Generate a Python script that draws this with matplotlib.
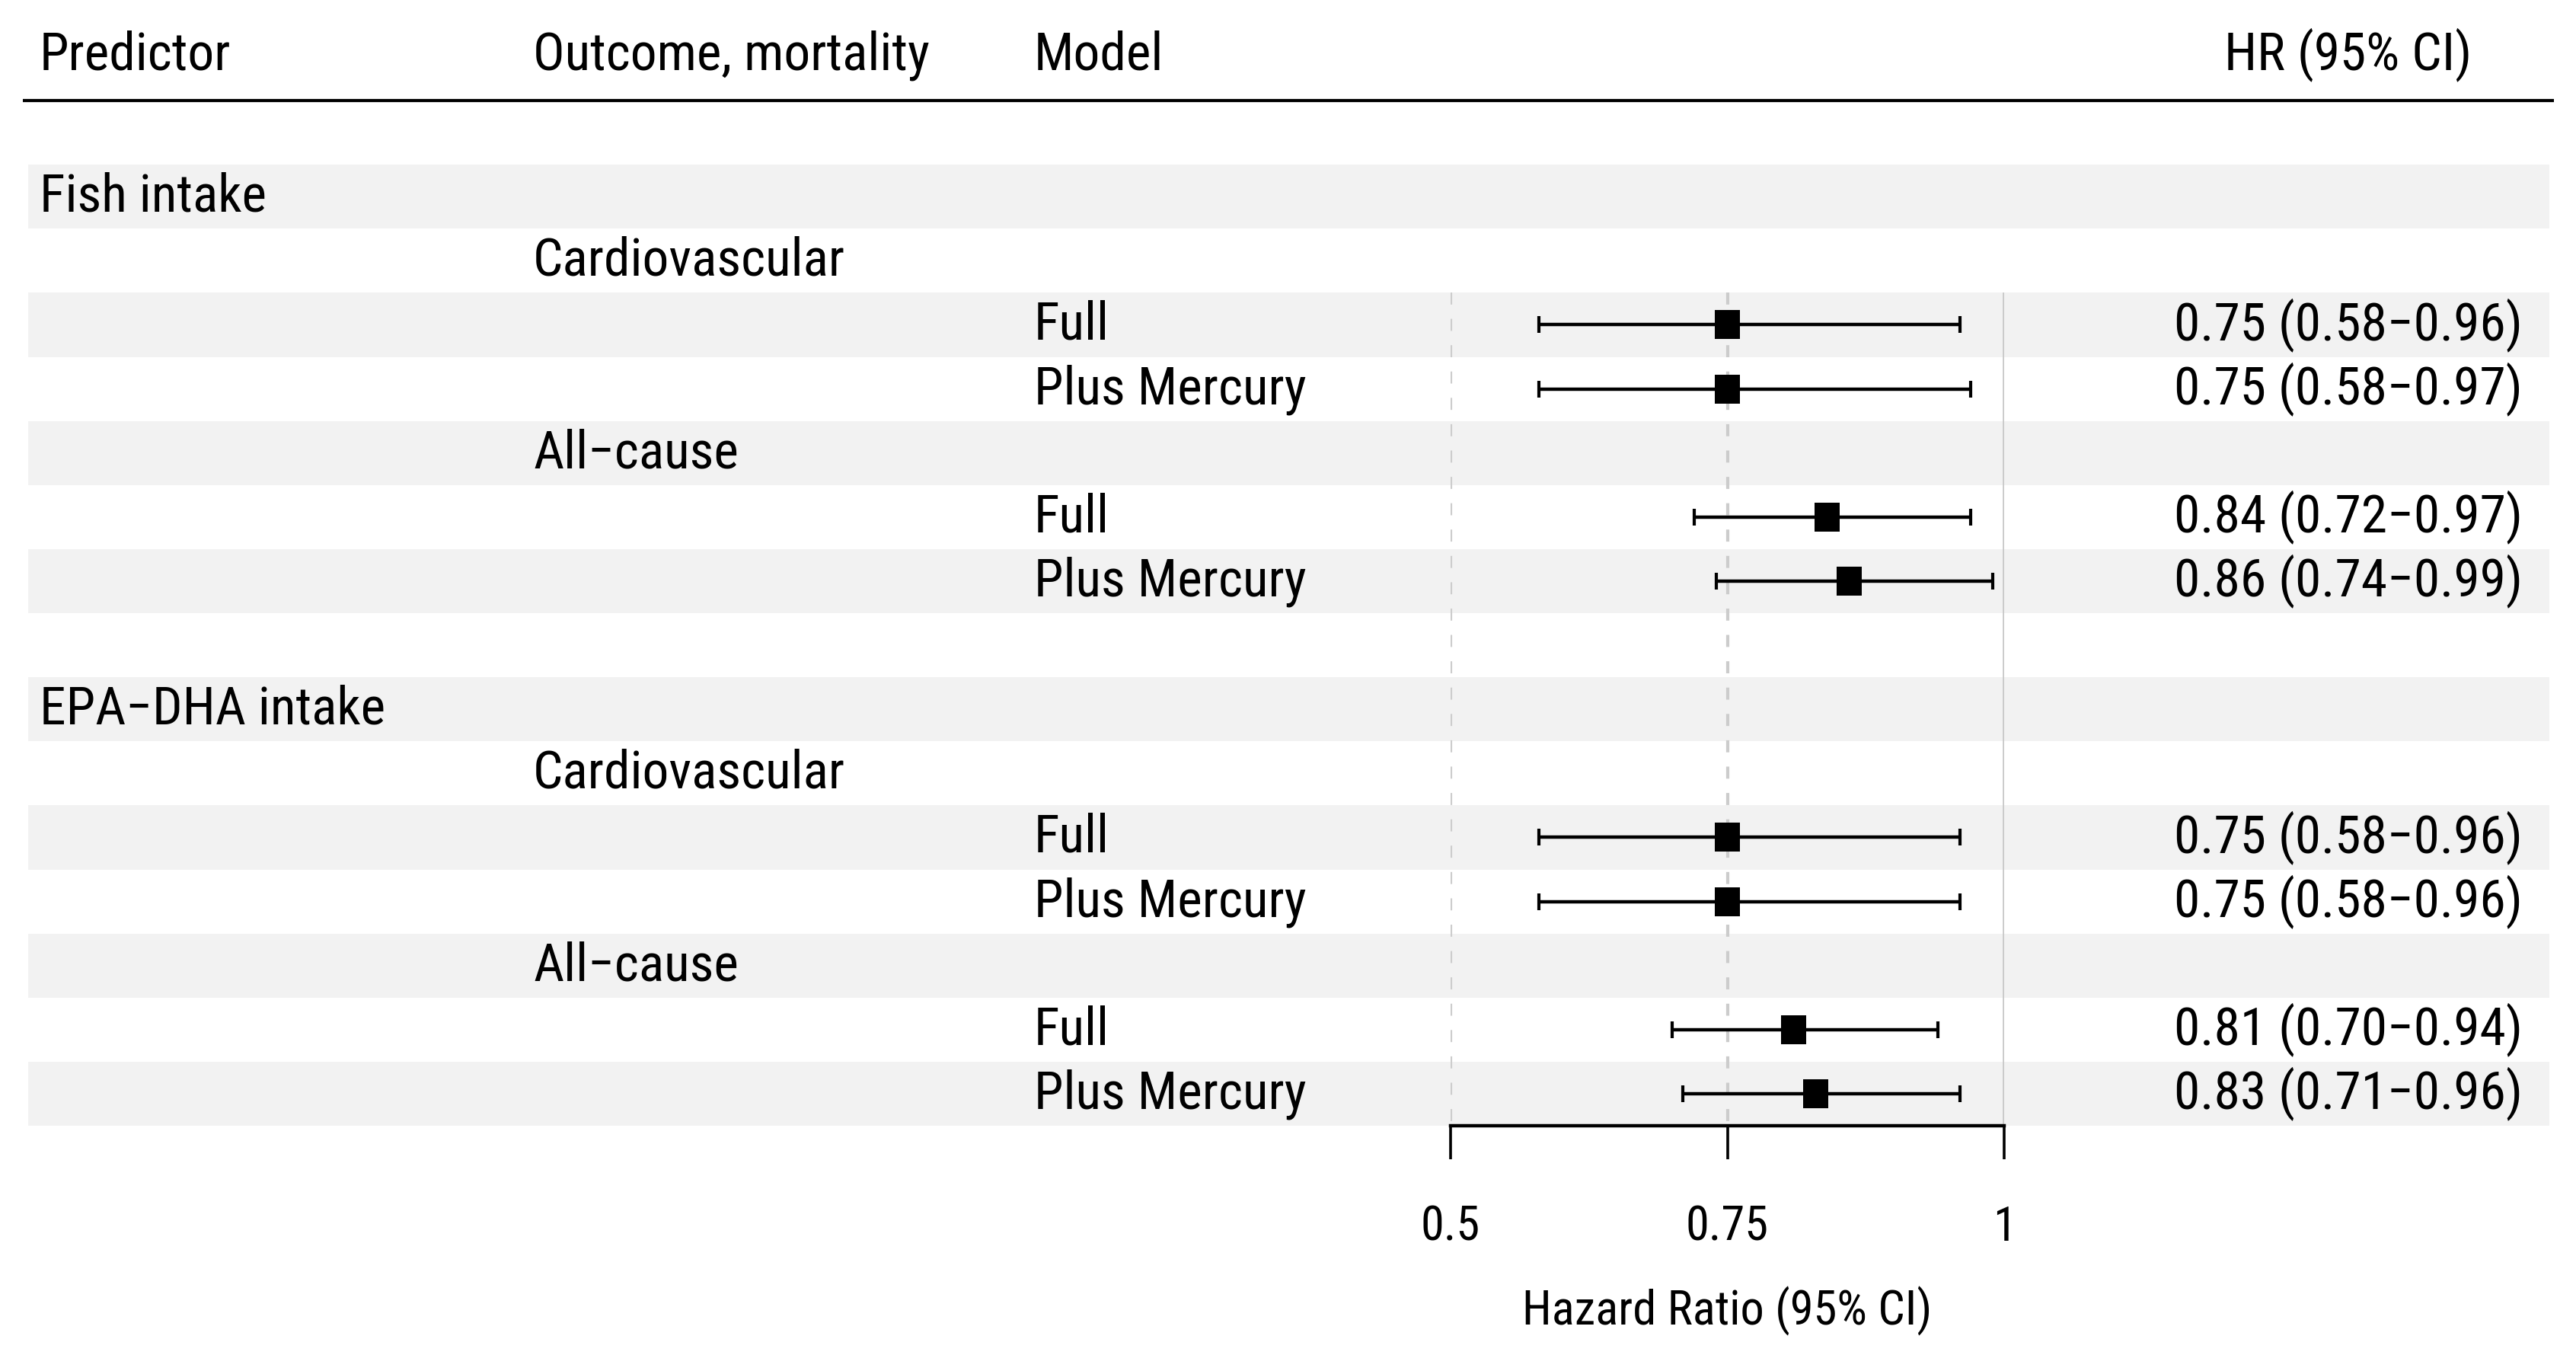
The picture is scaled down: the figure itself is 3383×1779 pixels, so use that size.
import matplotlib
matplotlib.use("Agg")
import matplotlib.pyplot as plt
from matplotlib import font_manager
from matplotlib.patches import Rectangle

# ---------------- data ----------------
predictors = ["Fish intake", "EPA−DHA intake"]
outcomes = ["Cardiovascular", "All−cause"]
models = ["Full", "Plus Mercury"]
hr = [0.75, 0.75, 0.84, 0.86, 0.75, 0.75, 0.81, 0.83]
ci_lo = [0.58, 0.58, 0.72, 0.74, 0.58, 0.58, 0.70, 0.71]
ci_hi = [0.96, 0.97, 0.97, 0.99, 0.96, 0.96, 0.94, 0.96]
headers = ["Predictor", "Outcome, mortality", "Model", "HR (95% CI)"]
xticks = [0.5, 0.75, 1.0]
xtick_labels = ["0.5", "0.75", "1"]
xlabel = "Hazard Ratio (95% CI)"

# ---------------- fonts ----------------
entries = font_manager.fontManager.ttflist
names = {f.name for f in entries}
cond_stretch = ("condensed", "semi-condensed", "extra-condensed")
chosen = None
stretch = "normal"
for nm in ["Roboto Condensed", "Open Sans Condensed", "Liberation Sans Narrow", "Noto Sans Condensed",
           "Noto Sans SemiCondensed", "Arial Narrow"]:
    if nm in names:
        chosen = nm
        break
if chosen is None:
    for base in ["Open Sans", "Noto Sans", "Roboto", "DejaVu Sans"]:
        hits = [f for f in entries if f.name == base and str(f.stretch) in cond_stretch
                and str(f.weight) in ("400", "normal", "regular", "book")]
        if hits:
            chosen = base
            stretch = str(hits[0].stretch)
            break
if chosen is None:
    chosen = "Open Sans"
    body_fs, axis_fs = 21.5, 19.5
else:
    body_fs, axis_fs = 25, 22.5
fam = [chosen, "DejaVu Sans"]
plt.rcParams["font.family"] = fam
plt.rcParams["font.stretch"] = stretch

# ---------------- layout (pixels) ----------------
W, H, DPI = 3383, 1779, 200
top_px, bot_px = 132, 1478
n_rows = 16
row_px = (bot_px - top_px) / n_rows
x05_px, x1_px = 1905, 2632

fig = plt.figure(figsize=(W / DPI, H / DPI), dpi=DPI)

ax_bg = fig.add_axes([0, 0, 1, 1])
ax_bg.set_xlim(0, 1)
ax_bg.set_ylim((H - top_px) / row_px, -top_px / row_px)
ax_bg.axis("off")

# build the table rows
rows = []  # (row_index, col, text, data_index)
r = 1
k = 0
for pi, p in enumerate(predictors):
    rows.append((r, 0, p, None)); r += 1
    for o in outcomes:
        rows.append((r, 1, o, None)); r += 1
        for m in models:
            rows.append((r, 2, m, k)); r += 1; k += 1
    r += 1  # blank row between predictors

# stripes on alternating rows
for i in range(n_rows):
    if i % 2 == 1:
        ax_bg.axhspan(i, i + 1, xmin=37 / W, xmax=3348 / W, color="#f2f2f2", lw=0, zorder=0)

# header line
ax_bg.hlines(0, 30 / W, 3354 / W, color="black", lw=1.5, zorder=2)

col_x = [52 / W, 700 / W, 1358 / W]
hr_x = 3084 / W
base_off = 0.732
head_y = -0.481

for j, h in enumerate(headers[:3]):
    ax_bg.text(col_x[j], head_y, h, fontsize=body_fs, ha="left", va="baseline")
ax_bg.text(hr_x, head_y, headers[3], fontsize=body_fs, ha="center", va="baseline")

data_rows = []
for (ri, col, txt, di) in rows:
    ax_bg.text(col_x[col], ri + base_off, txt, fontsize=body_fs, ha="left", va="baseline")
    if di is not None:
        data_rows.append(ri + 0.5)
        lab = f"{hr[di]:.2f} ({ci_lo[di]:.2f}−{ci_hi[di]:.2f})"
        ax_bg.text(hr_x, ri + base_off, lab, fontsize=body_fs, ha="center", va="baseline")

# ---------------- forest axes ----------------
ax = fig.add_axes([x05_px / W, (H - bot_px) / H, (x1_px - x05_px) / W, (bot_px - top_px) / H])
ax.set_facecolor("none")
ax.set_xlim(xticks[0], xticks[-1])
ax.set_ylim(n_rows, 0)
for s in ["top", "left", "right"]:
    ax.spines[s].set_visible(False)
ax.spines["bottom"].set_linewidth(1.6)
ax.spines["bottom"].set_clip_on(False)
ax.set_yticks([])
ax.set_xticks(xticks)
ax.set_xticklabels(xtick_labels, fontsize=axis_fs)
ax.tick_params(axis="x", direction="out", length=15.8, width=1.3, pad=21.6)

first_data_top = min(data_rows) - 0.5
ax.vlines([0.5, 0.75], first_data_top, n_rows, colors="#cccccc", lw=1.5,
          linestyles=[(0, (3.8, 4.5))], zorder=1)
ax.vlines(1.0, first_data_top, n_rows, colors="#c8c8c8", lw=1.3, zorder=1)

xerr = [[h - l for h, l in zip(hr, ci_lo)], [u - h for h, u in zip(hr, ci_hi)]]
ax.errorbar(hr, data_rows, xerr=xerr, fmt="none", ecolor="black", elinewidth=1.6,
            capsize=3.8, capthick=1.5, zorder=3)
bw = 33 / ((x1_px - x05_px) / 0.5)
bh = 38 / row_px
for h, y in zip(hr, data_rows):
    ax.add_patch(Rectangle((h - bw / 2, y - bh / 2), bw, bh, facecolor="black",
                           edgecolor="none", zorder=4))

ax.set_xlabel(xlabel, fontsize=axis_fs)
ax.xaxis.set_label_coords(0.5, (bot_px - 1739) / (bot_px - top_px))
ax.xaxis.label.set_va("baseline")

fig.savefig("out.png", dpi=DPI)
